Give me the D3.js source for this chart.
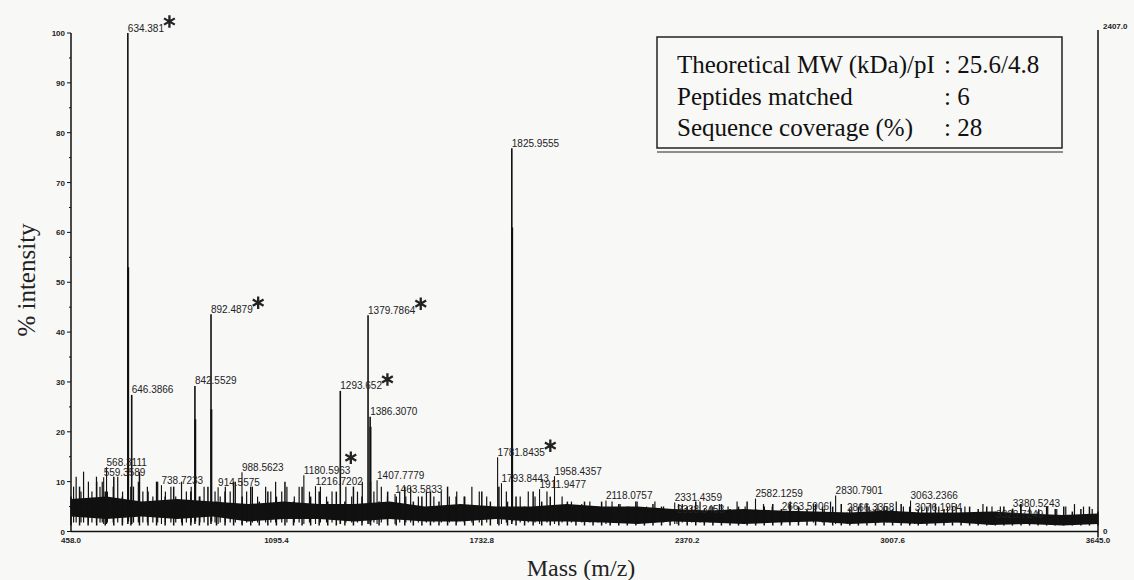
<!DOCTYPE html>
<html>
<head>
<meta charset="utf-8">
<script src="https://cdn.jsdelivr.net/npm/d3@7"></script>
<style>
  body { margin: 0; background: #f8f8f7; }
  svg { display: block; }
</style>
</head>
<body>
<div id="chart"></div>
<script>
// axis ticks (m/z and % intensity)
var xTicks = [458.0, 1095.4, 1732.8, 2370.2, 3007.6, 3645.0];
var yTicks = [0, 10, 20, 30, 40, 50, 60, 70, 80, 90, 100];
var yMinor = [5, 15, 25, 35, 45, 55, 65, 75, 85, 95];

// labelled peaks
var peakMass = [559.3589, 568.3111, 634.381, 646.3866, 738.7233, 842.5529, 892.4879, 914.5575,
  988.5623, 1180.5963, 1216.7202, 1293.652, 1379.7864, 1386.3070, 1407.7779, 1463.5833,
  1793.8443, 1781.8435, 1825.9555, 1911.9477, 1958.4357, 2118.0757, 2331.4359, 2338.3453,
  2582.1259, 2663.5906, 2830.7901, 2866.3358, 3063.2366, 3076.1954, 3328.7249, 3380.5243];
var peakInt = [10.9, 12.9, 100, 27.4, 9.3, 29.2, 43.6, 8.9,
  11.9, 11.3, 9.1, 28.2, 43.4, 23, 10.3, 7.5,
  9.7, 14.9, 76.9, 8.5, 11.1, 6.2, 5.8, 3.4,
  6.6, 4, 7.2, 3.8, 6.2, 3.8, 2.4, 4.6];
var peakLabel = ["559.3589", "568.3111", "634.381", "646.3866", "738.7233", "842.5529", "892.4879", "914.5575",
  "988.5623", "1180.5963", "1216.7202", "1293.652", "1379.7864", "1386.3070", "1407.7779", "1463.5833",
  "1793.8443", "1781.8435", "1825.9555", "1911.9477", "1958.4357", "2118.0757", "2331.4359", "2338.3453",
  "2582.1259", "2663.5906", "2830.7901", "2866.3358", "3063.2366", "3076.1954", "3328.7249", "3380.5243"];
// peptides matched to the protein
var starred = ["634.381", "892.4879", "1180.5963", "1293.652", "1379.7864", "1781.8435"];

// isotope lines next to the strong peaks
var isoMass = [635.38, 843.55, 893.49, 1387.31, 1826.96];
var isoInt = [53, 22.5, 24.5, 21, 61];

// noise: solid band (lower and upper edge) and hair tops, read at even steps (%)
var noiseBottom = [3, 2.5, 3, 2.5, 3, 2, 2.5, 2.5, 2, 2.5, 2, 2, 2.5, 2, 2,
  1.8, 1.5, 2, 1.8, 1.5, 1.8, 2, 1.5, 1.8, 1.5, 1.8, 1.3, 1.5, 1.2, 1.5];
var noiseCore = [6.5, 7, 6, 6.5, 6, 5.5, 6, 5.5, 5.5, 6, 5, 5.5, 5, 5, 5.5,
  5, 5, 4.5, 4.2, 4.5, 4.2, 4, 3.8, 4.2, 3.8, 3.8, 4, 3.6, 3.3, 3.6];
var noiseTop = [7, 9, 6, 10, 8, 11, 7, 9, 12, 8,
  10, 7, 9, 6, 8, 7,
  9, 6, 8, 10, 7, 9, 6, 8, 7, 10, 6, 9, 7, 8, 6,
  8, 6, 9, 7, 10, 6, 8, 7, 9, 6, 7, 8, 6, 9, 7,
  7, 5, 8, 6, 9, 6, 7, 5, 8, 6, 7, 5, 6, 5, 6,
  5, 6, 4.5, 5.5, 5, 6, 4.5, 5.5, 5, 4.5, 5.5, 5, 6, 4.5, 5,
  5.5, 4.5, 5, 6, 4.5, 5, 5.5, 4.5, 5.5, 5, 4.5, 5.5, 4.5, 5, 5.5,
  4.5, 5, 5.5, 4.5, 5, 4.5, 5.5, 5, 4.5, 5, 5.5, 4.5, 5, 4.5, 5,
  4.5, 5, 4, 5, 4.5, 5.5, 4.5, 4, 5, 4.5, 5, 4, 4.5, 5, 4];

// taller noise spikes
var spikeMass = [466, 474, 489, 497, 512, 523, 537, 548, 555, 571, 589, 603, 618, 652, 667, 681, 695,
  712, 727, 751, 768, 783, 801, 816, 831, 858, 871, 905, 921, 937, 952, 968, 1003, 1021, 1037,
  1062, 1078, 1093, 1112, 1128, 1151, 1166, 1198, 1232, 1251, 1268, 1311, 1329, 1347, 1362,
  1398, 1421, 1440, 1478, 1497, 1512, 1536, 1561, 1584, 1607, 1632, 1655, 1678, 1702, 1725,
  1748, 1809, 1852, 1877, 1898, 1935, 1982, 2011, 2043, 2068, 2094, 2137, 2162, 2190, 2215,
  2244, 2270, 2297, 2355, 2384, 2410, 2441, 2470, 2497, 2525, 2550, 2607, 2634, 2690, 2716,
  2762, 2790, 2815, 2881, 2909, 2935, 2962, 2990, 3019, 3041, 3098, 3126, 3151, 3178, 3205,
  3232, 3288, 3316, 3342, 3405, 3433, 3461, 3489, 3517, 3545, 3572, 3600, 3627];
var spikeInt = [9, 11, 8, 12, 10, 8, 11, 9, 10, 8, 9, 11, 8, 9, 10, 8, 9,
  7, 10, 8, 9, 7, 10, 8, 9, 7, 9, 8, 7, 9, 8, 10, 8, 9, 7,
  9, 8, 10, 8, 9, 7, 9, 8, 9, 7, 8, 9, 7, 8, 10,
  8, 9, 7, 8, 7, 9, 7, 8, 7, 8, 7, 8, 7, 9, 8,
  7, 8, 7, 8, 7, 8, 7, 6, 5.5, 6, 5, 6, 5.5, 5, 6,
  5, 6, 5, 5.5, 5, 6, 5, 5.5, 5, 6, 5, 5.5, 5, 6, 5,
  5.5, 5, 6, 5, 5.5, 5, 5.5, 5, 6, 5, 5, 5.5, 5, 5, 5.5,
  5, 5.5, 5, 5, 5.5, 5, 4.5, 5, 4.5, 5, 5.5, 5, 4.5];

var width = 1134, height = 580;
var bg = "#f8f8f7", ink = "#111";
var sans = "Liberation Sans, Arial, sans-serif";
var serif = "Liberation Serif, Times New Roman, serif";

var svg = d3.select("#chart").append("svg")
  .attr("width", width)
  .attr("height", height);

var x = d3.scaleLinear().domain([458.0, 3645.0]).range([71, 1098]);
var y = d3.scaleLinear().domain([0, 100]).range([531.5, 33]);

// sample positions of the noise arrays across the mass range
var coreStep = d3.scaleLinear().domain([0, noiseCore.length - 1]).range(x.domain());
var botStep = d3.scaleLinear().domain([0, noiseBottom.length - 1]).range(x.domain());
var topStep = d3.scaleLinear().domain([0, noiseTop.length - 1]).range(x.domain());

// solid noise band
svg.append("path")
  .datum(noiseCore)
  .attr("fill", ink)
  .attr("d", d3.area()
    .x(function(d, i) { return x(coreStep(i)); })
    .y0(y(0))
    .y1(function(d) { return y(d); }));
svg.append("path")
  .datum(noiseBottom)
  .attr("fill", bg)
  .attr("d", d3.area()
    .x(function(d, i) { return x(botStep(i)); })
    .y0(y(0) + 1)
    .y1(function(d) { return y(d); }));

// noise hairs
var hairs = svg.append("g").attr("stroke", ink);
hairs.selectAll(".t")
  .data(noiseTop)
  .enter().append("line")
  .attr("x1", function(d, i) { return x(topStep(i)); })
  .attr("x2", function(d, i) { return x(topStep(i)); })
  .attr("y1", y(1.2))
  .attr("y2", function(d) { return y(d); })
  .attr("stroke-width", 1.5);
hairs.selectAll(".s")
  .data(spikeMass)
  .enter().append("line")
  .attr("x1", function(d) { return x(d); })
  .attr("x2", function(d) { return x(d); })
  .attr("y1", y(1.8))
  .attr("y2", function(d, i) { return y(spikeInt[i]); })
  .attr("stroke-width", 1.2);

// isotope lines (thicker lower part)
svg.append("g").selectAll("line")
  .data(isoMass)
  .enter().append("line")
  .attr("x1", function(d) { return x(d); })
  .attr("x2", function(d) { return x(d); })
  .attr("y1", y(2))
  .attr("y2", function(d, i) { return y(isoInt[i]); })
  .attr("stroke", ink)
  .attr("stroke-width", 2);

// labelled peaks
var peaks = svg.append("g");
peaks.selectAll("line")
  .data(peakMass)
  .enter().append("line")
  .attr("x1", function(d) { return x(d); })
  .attr("x2", function(d) { return x(d); })
  .attr("y1", y(1.5))
  .attr("y2", function(d, i) { return y(peakInt[i]); })
  .attr("stroke", ink)
  .attr("stroke-width", function(d, i) { return peakInt[i] > 20 ? 1.6 : 1.1; });

var labels = peaks.selectAll("text")
  .data(peakMass)
  .enter().append("text")
  .attr("x", function(d) { return x(d); })
  .attr("y", function(d, i) { return y(peakInt[i]) - 1.5; })
  .attr("font-family", sans)
  .attr("font-size", 10)
  .attr("fill", "#222")
  .text(function(d, i) { return peakLabel[i]; });

var boxes = [];
labels.each(function() { boxes.push(this.getBBox()); });

function hits(b) {
  return boxes.some(function(o) {
    return b.x < o.x + o.width && o.x < b.x + b.width && b.y < o.y + o.height && o.y < b.y + b.height;
  });
}

// asterisks after the matched peptides, lifted over the label end if a neighbour label is in the way
var star = d3.symbol().type(d3.symbolAsterisk).size(110);
labels.each(function(d, i) {
  if (starred.indexOf(peakLabel[i]) < 0) return;
  var b = boxes[i];
  var base = y(peakInt[i]) - 1.5;
  var end = b.x + b.width;
  var cx = end + 5, cy = base - 10;
  if (hits({ x: end + 1, y: base - 12, width: 14, height: 20 })) {
    cx = end;
    cy = base - 16;
  }
  peaks.append("path")
    .attr("d", star)
    .attr("transform", "translate(" + cx + "," + cy + ")")
    .attr("fill", "none")
    .attr("stroke", "#222")
    .attr("stroke-width", 2.3);
});

// axes
var axisG = svg.append("g").attr("stroke", ink);
var x0 = x(x.domain()[0]), x1 = x(x.domain()[1]);
axisG.append("line")
  .attr("x1", x0).attr("x2", x1)
  .attr("y1", y(0)).attr("y2", y(0))
  .attr("stroke-width", 1.5);
axisG.append("line")
  .attr("x1", x0).attr("x2", x0)
  .attr("y1", y(0)).attr("y2", y(100))
  .attr("stroke-width", 1.5);
// right line with the absolute intensity of the base peak
axisG.append("line")
  .attr("x1", x1).attr("x2", x1)
  .attr("y1", y(0) + 6).attr("y2", y(100) - 3)
  .attr("stroke-width", 1.5);

axisG.selectAll(".ymaj")
  .data(yTicks)
  .enter().append("line")
  .attr("x1", x0 - 4).attr("x2", x0)
  .attr("y1", function(d) { return y(d); })
  .attr("y2", function(d) { return y(d); });
axisG.selectAll(".ymin")
  .data(yMinor)
  .enter().append("line")
  .attr("x1", x0 - 2).attr("x2", x0)
  .attr("y1", function(d) { return y(d); })
  .attr("y2", function(d) { return y(d); });

svg.append("g").selectAll("text")
  .data(yTicks)
  .enter().append("text")
  .attr("x", x0 - 6)
  .attr("y", function(d) { return y(d) + 3; })
  .attr("text-anchor", "end")
  .attr("font-family", sans)
  .attr("font-size", 8)
  .attr("font-weight", "bold")
  .attr("fill", "#222")
  .text(function(d) { return d; });

svg.append("g").selectAll("text")
  .data(xTicks)
  .enter().append("text")
  .attr("x", function(d) { return x(d); })
  .attr("y", y(0) + 11)
  .attr("text-anchor", "middle")
  .attr("font-family", sans)
  .attr("font-size", 8)
  .attr("font-weight", "bold")
  .attr("fill", "#222")
  .text(d3.format(".1f"));

svg.append("text")
  .attr("x", x1 + 5).attr("y", y(100) - 4)
  .attr("font-family", sans)
  .attr("font-size", 8).attr("font-weight", "bold").attr("fill", "#222")
  .text("2407.0");
svg.append("text")
  .attr("x", x1 + 5).attr("y", y(0) + 2)
  .attr("font-family", sans)
  .attr("font-size", 8).attr("font-weight", "bold").attr("fill", "#222")
  .text("0");

// axis titles
svg.append("text")
  .attr("x", 581).attr("y", 576)
  .attr("text-anchor", "middle")
  .attr("font-family", serif)
  .attr("font-size", 24)
  .attr("fill", "#222")
  .text("Mass (m/z)");
svg.append("text")
  .attr("transform", "translate(35,280) rotate(-90)")
  .attr("text-anchor", "middle")
  .attr("font-family", serif)
  .attr("font-size", 25)
  .attr("fill", "#222")
  .text("% intensity");

// info box
var box = svg.append("g");
box.append("rect")
  .attr("x", 657).attr("y", 37).attr("width", 405).attr("height", 111)
  .attr("fill", "none").attr("stroke", "#222").attr("stroke-width", 1.5);
box.append("line")
  .attr("x1", 657).attr("x2", 1063).attr("y1", 152).attr("y2", 152)
  .attr("stroke", "#222").attr("stroke-width", 1.2);

var infoName = ["Theoretical MW (kDa)/pI", "Peptides matched", "Sequence coverage (%)"];
var infoValue = [": 25.6/4.8", ": 6", ": 28"];
box.selectAll(".n")
  .data(infoName)
  .enter().append("text")
  .attr("x", 677)
  .attr("y", function(d, i) { return 73 + i * 31.7; })
  .attr("font-family", serif)
  .attr("font-size", 25)
  .attr("fill", ink)
  .text(function(d) { return d; });
box.selectAll(".v")
  .data(infoValue)
  .enter().append("text")
  .attr("x", 944)
  .attr("y", function(d, i) { return 73 + i * 31.7; })
  .attr("font-family", serif)
  .attr("font-size", 25)
  .attr("fill", ink)
  .text(function(d) { return d; });
</script>
</body>
</html>
